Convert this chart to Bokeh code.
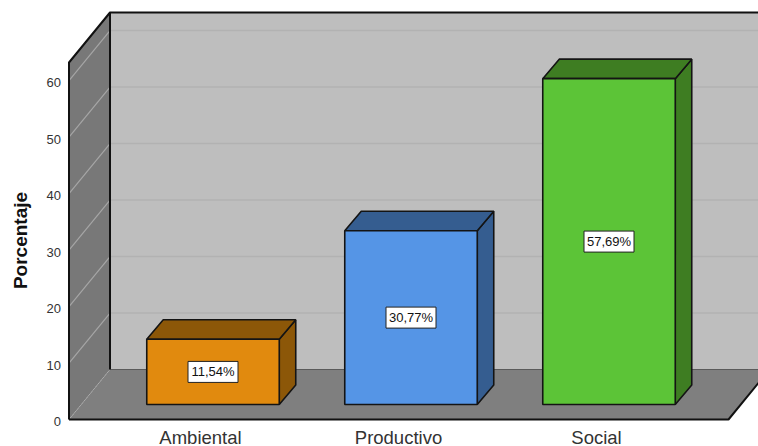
import math
from bokeh.core.properties import value
from bokeh.embed import file_html
from bokeh.models import FixedTicker, LinearAxis, Range1d
from bokeh.plotting import figure
from bokeh.resources import INLINE

categories = ["Ambiental", "Productivo", "Social"]
percentages = [11.54, 30.77, 57.69]
y_ticks = [0, 10, 20, 30, 40, 50, 60]
y_title = "Porcentaje"
face_colors = ["#E18A0E", "#5595E6", "#5CC437"]
shade_colors = ["#8C5708", "#355D90", "#3E7D22"]

PX_X = 198.0     # px per category
PX_Y = 5.648     # px per percent
W, H = 758, 446


def dx(px):
    return px / PX_X


def dy(px):
    return px / PX_Y


x_start = (0 - 200) / PX_X
x_end = x_start + W / PX_X
y_start = -(H - 419) / PX_Y
y_end = y_start + H / PX_Y

p = figure(width=W, height=H, output_backend="svg", toolbar_location=None,
           x_range=Range1d(x_start, x_end), y_range=Range1d(y_start, y_end),
           x_axis_type=None, y_axis_type=None, min_border=0, outline_line_color=None)
p.grid.visible = False
# tick labels sit 2px under their gridlines in the reference
p.extra_y_ranges = {"tick_labels": Range1d(y_start + dy(2), y_end + dy(2))}

wall_left = (68.5 - 200) / PX_X
floor_right = (728 - 200) / PX_X
wall_top = dy(419 - 62)
depth_x, depth_y = dx(41), dy(50)
back_left = wall_left + depth_x
far_right = floor_right + depth_x

# walls and floor
p.patch([back_left, far_right, far_right, back_left],
        [depth_y, depth_y, wall_top + depth_y, wall_top + depth_y],
        fill_color="#BEBEBE", line_color=None)
p.patch([wall_left, back_left, back_left, wall_left],
        [0, depth_y, wall_top + depth_y, wall_top],
        fill_color="#787878", line_color=None)
p.patch([wall_left, floor_right, far_right, back_left],
        [0, 0, depth_y, depth_y],
        fill_color="#7F7F7F", line_color=None)

# gridlines
for t in y_ticks[1:]:
    p.line([back_left, far_right], [t + depth_y, t + depth_y], line_color="#B2B2B2", line_width=1.5)
    p.line([wall_left, back_left], [t, t + depth_y], line_color="#A6A6A6", line_width=1.2)

# frame edges
p.line([back_left, far_right], [depth_y, depth_y], line_color="#5A5A5A", line_width=1)
p.line([wall_left, back_left], [0, depth_y], line_color="#B0B0B0", line_width=1, line_dash="1 1")
edge = dict(line_color="#111111", line_width=2)
p.line([wall_left, wall_left, back_left, far_right], [0, wall_top, wall_top + depth_y, wall_top + depth_y], **edge)
p.line([back_left, back_left], [depth_y, wall_top + depth_y], **edge)
p.line([wall_left, floor_right, far_right], [0, 0, depth_y], **edge)

# bars
bar_w = dx(132.5)
bar_shift = dx(12.5)
bar_base = dy(419 - 404)
bar_dx, bar_dy = dx(16.5), dy(19.5)
outline = dict(line_color="#141414", line_width=1.6)
for i, (v, fc, sc) in enumerate(zip(percentages, face_colors, shade_colors)):
    x0 = i + bar_shift - bar_w / 2
    x1 = x0 + bar_w
    y0, y1 = bar_base, bar_base + v
    p.patch([x1, x1 + bar_dx, x1 + bar_dx, x1], [y0, y0 + bar_dy, y1 + bar_dy, y1], fill_color=sc, **outline)
    p.patch([x0, x1, x1 + bar_dx, x0 + bar_dx], [y1, y1, y1 + bar_dy, y1 + bar_dy], fill_color=sc, **outline)
    p.patch([x0, x1, x1, x0], [y0, y0, y1, y1], fill_color=fc, **outline)
    xc, yc = (x0 + x1) / 2, (y0 + y1) / 2
    p.rect([xc], [yc], width=dx(50), height=dy(21), fill_color="white", line_color="#222222", line_width=1)
    p.text([xc], [yc], text=[f"{v:.2f}%".replace(".", ",")], text_font=value("Liberation Sans"),
           text_font_size="13px", text_color="#111111", text_align="center", text_baseline="middle")

# axis title
p.text([dx(20 - 200)], [dy(419 - 240)], text=[y_title], angle=math.pi / 2,
       text_font=value("Liberation Sans"), text_font_style="bold", text_font_size="19px",
       text_color="#111111", text_align="center", text_baseline="middle")

# axes
yaxis = LinearAxis(fixed_location=wall_left, y_range_name="tick_labels", ticker=FixedTicker(ticks=y_ticks))
yaxis.axis_line_color = None
yaxis.major_tick_line_color = None
yaxis.minor_tick_line_color = None
yaxis.major_label_standoff = 2
yaxis.major_label_text_font = "Liberation Sans"
yaxis.major_label_text_font_size = "13px"
yaxis.major_label_text_color = "#333333"
p.add_layout(yaxis, "left")

xaxis = LinearAxis(fixed_location=0, ticker=FixedTicker(ticks=list(range(len(categories)))),
                   major_label_overrides={i: c for i, c in enumerate(categories)})
xaxis.axis_line_color = None
xaxis.major_tick_line_color = None
xaxis.minor_tick_line_color = None
xaxis.major_label_standoff = 1
xaxis.major_label_text_font = "Liberation Sans"
xaxis.major_label_text_font_size = "18.5px"
xaxis.major_label_text_color = "#333333"
p.add_layout(xaxis, "below")

open("out.html", "w").write(file_html(p, INLINE))
